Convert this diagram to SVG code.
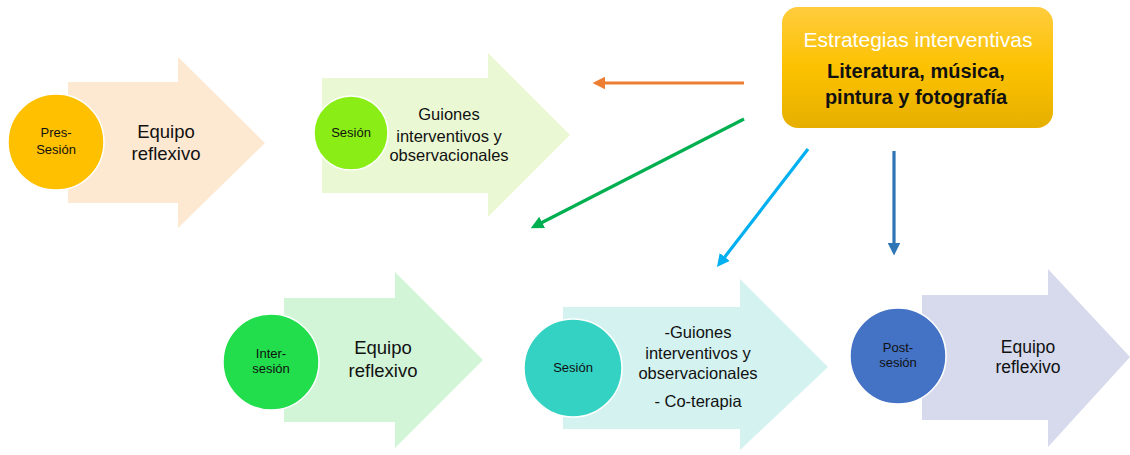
<svg xmlns="http://www.w3.org/2000/svg" width="1130" height="455" viewBox="0 0 1130 455">
<style>
text{font-family:"Liberation Sans",Arial,sans-serif;fill:#111;text-anchor:middle}
.big{font-size:18.5px}
.mid{font-size:16.5px}
.sm{font-size:13px}
.hd{font-size:21px;fill:#fff}
.bd{font-size:20px;font-weight:bold}
.circ{stroke:#fff;stroke-width:1.5}
.con{fill:none;stroke-width:3.2}
</style>
<defs>
<linearGradient id="gBox" x1="0" y1="0" x2="0" y2="1">
<stop offset="0" stop-color="#FFCC3E"/>
<stop offset="0.5" stop-color="#FCC200"/>
<stop offset="1" stop-color="#E6AF00"/>
</linearGradient>
<marker id="mOr" viewBox="0 0 10 10" refX="1" refY="5" markerWidth="4" markerHeight="4" orient="auto" markerUnits="strokeWidth"><path d="M0,0 L10,5 L0,10 z" fill="#ED7D31"/></marker>
<marker id="mGr" viewBox="0 0 10 10" refX="1" refY="5" markerWidth="4" markerHeight="4" orient="auto" markerUnits="strokeWidth"><path d="M0,0 L10,5 L0,10 z" fill="#00B050"/></marker>
<marker id="mCy" viewBox="0 0 10 10" refX="1" refY="5" markerWidth="4" markerHeight="4" orient="auto" markerUnits="strokeWidth"><path d="M0,0 L10,5 L0,10 z" fill="#00B0F0"/></marker>
<marker id="mBl" viewBox="0 0 10 10" refX="1" refY="5" markerWidth="4" markerHeight="4" orient="auto" markerUnits="strokeWidth"><path d="M0,0 L10,5 L0,10 z" fill="#2E75B6"/></marker>
</defs>

<g id="pre-sesion">
<polygon points="68,82 178,82 178,57 265,143 178,228 178,203 68,203" fill="#FDE8D1"/>
<circle class="circ" cx="56" cy="142" r="48" fill="#FFC000"/>
<text class="sm" x="56" y="137">Pres-</text>
<text class="sm" x="56" y="154">Sesión</text>
<text class="big" x="166" y="138">Equipo</text>
<text class="big" x="166" y="160">reflexivo</text>
</g>

<g id="sesion-1">
<polygon points="322,78 488,78 488,53 570,135 488,217 488,193 322,193" fill="#EBF8D4"/>
<circle class="circ" cx="351" cy="133" r="37" fill="#8AEE16"/>
<text class="sm" x="351" y="137">Sesión</text>
<text class="mid" x="449" y="120">Guiones</text>
<text class="mid" x="449" y="142">interventivos y</text>
<text class="mid" x="449" y="161">observacionales</text>
</g>

<g id="estrategias">
<rect x="782" y="7" width="271" height="121" rx="16" fill="url(#gBox)"/>
<text class="hd" x="918" y="47">Estrategias interventivas</text>
<text class="bd" x="916" y="78">Literatura, música,</text>
<text class="bd" x="916" y="104">pintura y fotografía</text>
</g>

<g id="inter-sesion">
<polygon points="284,298 395,298 395,272 483,360 395,448 395,422 284,422" fill="#D2F5D8"/>
<circle class="circ" cx="271" cy="362" r="48" fill="#22DD4C"/>
<text class="sm" x="271" y="358">Inter-</text>
<text class="sm" x="271" y="373">sesión</text>
<text class="big" x="383" y="354">Equipo</text>
<text class="big" x="383" y="377">reflexivo</text>
</g>

<g id="sesion-2">
<polygon points="563,307 740,307 740,279 828,367 740,450 740,429 563,429" fill="#D3F2F0"/>
<circle class="circ" cx="573" cy="368" r="49" fill="#33D2C3"/>
<text class="sm" x="573" y="372">Sesión</text>
<text class="mid" x="698" y="338">-Guiones</text>
<text class="mid" x="698" y="359">interventivos y</text>
<text class="mid" x="698" y="379">observacionales</text>
<text class="mid" x="698" y="407">- Co-terapia</text>
</g>

<g id="post-sesion">
<polygon points="922,295 1048,295 1048,269 1130,357 1048,447 1048,420 922,420" fill="#D6DAEC"/>
<circle class="circ" cx="898" cy="356" r="48" fill="#4472C4"/>
<text class="sm" x="898" y="352">Post-</text>
<text class="sm" x="898" y="367">sesión</text>
<text class="big" x="1028" y="353" style="font-size:17.5px">Equipo</text>
<text class="big" x="1028" y="373" style="font-size:17.5px">reflexivo</text>
</g>

<g id="connectors">
<line class="con" x1="744" y1="83" x2="604" y2="83" stroke="#ED7D31" marker-end="url(#mOr)"/>
<line class="con" x1="744" y1="119" x2="541" y2="223" stroke="#00B050" marker-end="url(#mGr)"/>
<line class="con" x1="808" y1="149" x2="724" y2="258" stroke="#00B0F0" marker-end="url(#mCy)"/>
<line class="con" x1="894" y1="151" x2="894" y2="244" stroke="#2E75B6" marker-end="url(#mBl)"/>
</g>
</svg>
